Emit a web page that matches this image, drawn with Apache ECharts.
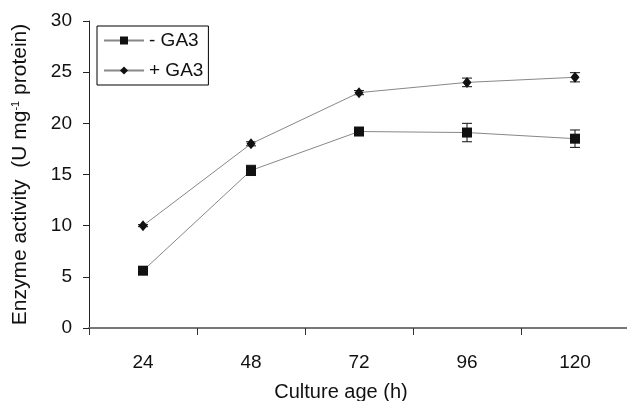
<!DOCTYPE html>
<html><head><meta charset="utf-8">
<script src="https://cdn.jsdelivr.net/npm/echarts@6/dist/echarts.min.js"></script>
<style>html,body{margin:0;padding:0;background:#fff}#c{width:627px;height:401px}</style>
</head><body><div id="c"></div>
<script>
var categories = ['24', '48', '72', '96', '120'];
var minusGA3 = [5.6, 15.4, 19.2, 19.1, 18.5];
var minusGA3Err = [0.2, 0.5, 0.25, 0.9, 0.85];
var plusGA3 = [10.0, 18.0, 23.0, 24.0, 24.5];
var plusGA3Err = [0.1, 0.2, 0.2, 0.42, 0.45];
var yTicks = [0, 5, 10, 15, 20, 25, 30];

var font = 'Liberation Sans, Arial, sans-serif';
function errSeries(vals, errs, name) {
  return {
    type: 'custom', name: name + ' err', silent: true, z: 3,
    data: vals.map(function (v, i) { return [i, v - errs[i], v + errs[i]]; }),
    renderItem: function (params, api) {
      var lo = api.coord([api.value(0), api.value(1)]);
      var hi = api.coord([api.value(0), api.value(2)]);
      var hw = 5;
      var st = { stroke: '#111', lineWidth: 1 };
      return { type: 'group', children: [
        { type: 'line', shape: { x1: lo[0], y1: lo[1], x2: hi[0], y2: hi[1] }, style: st },
        { type: 'line', shape: { x1: lo[0] - hw, y1: lo[1], x2: lo[0] + hw, y2: lo[1] }, style: st },
        { type: 'line', shape: { x1: hi[0] - hw, y1: hi[1], x2: hi[0] + hw, y2: hi[1] }, style: st }
      ]};
    }
  };
}
var chart = echarts.init(document.getElementById('c'), null, { renderer: 'canvas' });
chart.setOption({
  animation: false,
  backgroundColor: '#fff',
  textStyle: { fontFamily: font },
  grid: { left: 89, top: 21, width: 540, height: 307, outerBoundsMode: 'none', containLabel: false },
  legend: {
    left: 97, top: 26, orient: 'vertical',
    data: ['- GA3', '+ GA3'],
    borderColor: '#000', borderWidth: 1, padding: [5, 5, 5, 6],
    itemWidth: 40, itemHeight: 10, itemGap: 11, itemTextGap: 2,
    textStyle: { fontSize: 19, color: '#111', fontFamily: font }
  },
  xAxis: {
    type: 'category', data: categories, boundaryGap: true,
    axisLine: { lineStyle: { color: '#777', width: 2 } },
    axisTick: { show: true, length: 7, lineStyle: { color: '#333', width: 1 } },
    axisLabel: { fontSize: 19, color: '#111', margin: 25, fontFamily: font },
    name: 'Culture age (h)', nameLocation: 'middle', nameGap: 54,
    nameTextStyle: { fontSize: 20, color: '#111', fontFamily: font, padding: [0, 36, 0, 0] }
  },
  yAxis: {
    type: 'value', min: 0, max: 30, interval: 5,
    axisLine: { show: true, lineStyle: { color: '#222', width: 1 } },
    axisTick: { show: true, length: 6, lineStyle: { color: '#222' } },
    splitLine: { show: false },
    axisLabel: { fontSize: 19, color: '#111', margin: 17, fontFamily: font,
      formatter: function (v) { return yTicks.indexOf(v) >= 0 ? String(v) : ''; } },
    name: '{a|Enzyme activity  (U mg}{s|-1}{a| protein)}', nameLocation: 'middle', nameGap: 58,
    nameTextStyle: { fontFamily: font, rich: {
      a: { fontSize: 21, color: '#111', fontFamily: font },
      s: { fontSize: 11, color: '#111', fontFamily: font, verticalAlign: 'top', padding: [0, 0, 10, 0] }
    } }
  },
  series: [
    { name: '- GA3', type: 'line', data: minusGA3, symbol: 'rect', symbolSize: 10, z: 4,
      itemStyle: { color: '#111' }, lineStyle: { color: '#888', width: 1 } },
    { name: '+ GA3', type: 'line', data: plusGA3, symbol: 'diamond', symbolSize: [9, 11], z: 4,
      itemStyle: { color: '#111' }, lineStyle: { color: '#888', width: 1 } },
    errSeries(minusGA3, minusGA3Err, '- GA3'),
    errSeries(plusGA3, plusGA3Err, '+ GA3')
  ]
});
</script></body></html>
